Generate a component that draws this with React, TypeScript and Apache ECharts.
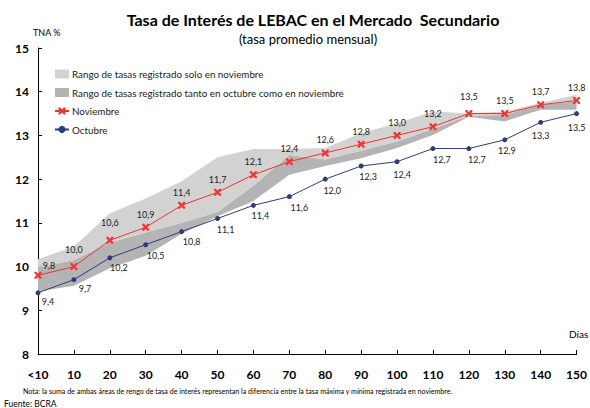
import React, { useEffect, useRef } from "react";
import * as echarts from "echarts";

const categories = ["<10", "10", "20", "30", "40", "50", "60", "70", "80", "90", "100", "110", "120", "130", "140", "150"];
const noviembre = [9.8, 10.0, 10.6, 10.9, 11.4, 11.7, 12.1, 12.4, 12.6, 12.8, 13.0, 13.2, 13.5, 13.5, 13.7, 13.8];
const octubre = [9.4, 9.7, 10.2, 10.5, 10.8, 11.1, 11.4, 11.6, 12.0, 12.3, 12.4, 12.7, 12.7, 12.9, 13.3, 13.5];
// lower edge of the shaded range (minimum registered)
const rangeMin = [9.43, 9.56, 9.96, 10.25, 10.75, 11.15, 11.5, 12.1, 12.3, 12.48, 12.71, 13.01, 13.43, 13.32, 13.59, 13.59];
// upper edge of the range common to both months
const overlapMax = [9.98, 10.15, 10.55, 10.78, 11.0, 11.25, 11.85, 12.55, 12.45, 12.65, 12.86, 13.15, 13.45, 13.47, 13.7, 13.78];
// upper edge of the November range (maximum registered)
const novMax = [10.17, 10.46, 11.22, 11.56, 11.95, 12.5, 12.69, 12.69, 12.71, 13.05, 13.28, 13.55, 13.5, 13.55, 13.74, 13.93];

const yTicks = { min: 8, max: 15, interval: 1 };

// label nudges (style only)
const novLabelOffset = [[11, 3], [0, -4], [0, -5], [0, 0], [0, 0], [0, 0], [0, 0], [0, 0], [0, 0], [0, 0], [0, 0], [0, 0], [0, -4], [0, 0], [0, 0], [0, 0]];
const octLabelOffset = [[10, -2], [11, -2], [9, -1], [10, 0], [10, -1], [8, 0], [7, -1], [10, 0], [7, 0], [7, -1], [5, 2], [9, 0], [8, 0], [2, 0], [0, 2], [0, 3]];

const FONT = "Lato, 'Open Sans', sans-serif";
const fmt = (v: number) => v.toFixed(1).replace(".", ",");
const LIGHT = "#d2d2d2";
const DARK = "#b4b4b4";
const RED = "#f03333";
const BLUE = "#2d3c7c";
const XPATH = "path://M0,0 L2.5,0 L5,3 L7.5,0 L10,0 L10,2.5 L7,5 L10,7.5 L10,10 L7.5,10 L5,7 L2.5,10 L0,10 L0,7.5 L3,5 L0,2.5 Z";

export default function App() {
  const ref = useRef<HTMLDivElement>(null);
  useEffect(() => {
    if (!ref.current) return;
    const chart = echarts.init(ref.current, null, { renderer: "svg" });
    const option: any = {
      animation: false,
      backgroundColor: "#ffffff",
      textStyle: { fontFamily: FONT },
      grid: { left: 38, right: 9, top: 48, bottom: 54 },
      legend: {
        orient: "vertical",
        left: 49,
        top: 64,
        itemWidth: 14,
        itemHeight: 9,
        itemGap: 8.5,
        textStyle: { fontFamily: FONT, fontSize: 9.8, color: "#222", padding: [0, 0, 0, -2] },
        data: [
          { name: "Rango de tasas registrado solo en noviembre", icon: "rect" },
          { name: "Rango de tasas registrado tanto en octubre como en noviembre", icon: "rect" },
          { name: "Noviembre" },
          { name: "Octubre" },
        ],
      },
      xAxis: {
        type: "category",
        data: categories,
        boundaryGap: false,
        axisLine: { lineStyle: { color: "#000", width: 1 } },
        axisTick: { inside: true, length: 4, lineStyle: { color: "#000" } },
        axisLabel: { fontFamily: FONT, fontWeight: "bold", fontSize: 12, color: "#000", margin: 14 },
        splitLine: { show: false },
      },
      yAxis: {
        type: "value",
        min: yTicks.min,
        max: yTicks.max,
        interval: yTicks.interval,
        axisLine: { show: true, lineStyle: { color: "#000", width: 1 } },
        axisTick: { show: true, inside: true, length: 4, lineStyle: { color: "#000" } },
        axisLabel: { fontFamily: FONT, fontWeight: "bold", fontSize: 12, color: "#000", margin: 9 },
        splitLine: { show: false },
      },
      series: [
        {
          name: "base",
          type: "line",
          stack: "band",
          data: rangeMin,
          symbol: "none",
          lineStyle: { opacity: 0 },
          silent: true,
        },
        {
          name: "Rango de tasas registrado tanto en octubre como en noviembre",
          type: "line",
          stack: "band",
          data: overlapMax.map((v, i) => +(v - rangeMin[i]).toFixed(3)),
          symbol: "none",
          lineStyle: { opacity: 0 },
          itemStyle: { color: DARK },
          areaStyle: { color: DARK, opacity: 1 },
        },
        {
          name: "Rango de tasas registrado solo en noviembre",
          type: "line",
          stack: "band",
          data: novMax.map((v, i) => +(v - overlapMax[i]).toFixed(3)),
          symbol: "none",
          lineStyle: { opacity: 0 },
          itemStyle: { color: LIGHT },
          areaStyle: { color: LIGHT, opacity: 1 },
        },
        {
          name: "Noviembre",
          type: "line",
          data: noviembre.map((v, i) => ({
            value: v,
            label: { offset: novLabelOffset[i] },
          })),
          symbol: XPATH,
          symbolSize: 7,
          lineStyle: { color: RED, width: 1 },
          itemStyle: { color: RED },
          z: 5,
          label: {
            show: true,
            position: "top",
            distance: 5,
            fontFamily: FONT,
            fontSize: 9,
            color: "#222",
            formatter: (p: any) => fmt(p.value),
          },
        },
        {
          name: "Octubre",
          type: "line",
          data: octubre.map((v, i) => ({
            value: v,
            label: { offset: octLabelOffset[i] },
          })),
          symbol: "circle",
          symbolSize: 5,
          lineStyle: { color: BLUE, width: 1 },
          itemStyle: { color: BLUE },
          z: 5,
          label: {
            show: true,
            position: "bottom",
            distance: 4,
            fontFamily: FONT,
            fontSize: 9,
            color: "#222",
            formatter: (p: any) => fmt(p.value),
          },
        },
      ],
      graphic: [
        {
          type: "text",
          x: 313,
          y: 19,
          style: {
            text: "Tasa de Interés de LEBAC en el Mercado  Secundario",
            font: `bold 16px ${FONT}`,
            fill: "#000",
            textAlign: "center",
            textVerticalAlign: "middle",
          },
        },
        {
          type: "text",
          x: 308,
          y: 39,
          style: {
            text: "(tasa promedio mensual)",
            font: `13px ${FONT}`,
            fill: "#000",
            textAlign: "center",
            textVerticalAlign: "middle",
          },
        },
        {
          type: "text",
          x: 33,
          y: 32,
          style: { text: "TNA %", font: `9px ${FONT}`, fill: "#000", textVerticalAlign: "middle" },
        },
        {
          type: "text",
          x: 569,
          y: 334,
          style: { text: "Días", font: `10px ${FONT}`, fill: "#000", textVerticalAlign: "middle" },
        },
        {
          type: "text",
          x: 23,
          y: 391,
          style: {
            text: "Nota: la suma de ambas áreas de rengo de tasa de interés representan la diferencia entre la tasa máxima y mínima registrada en noviembre.",
            font: `7.1px ${FONT}`,
            fill: "#000",
            textVerticalAlign: "middle",
          },
        },
        {
          type: "text",
          x: 4,
          y: 404,
          style: { text: "Fuente: BCRA", font: `8.5px ${FONT}`, fill: "#000", textVerticalAlign: "middle" },
        },
      ],
    };
    chart.setOption(option);
    return () => chart.dispose();
  }, []);
  return <div ref={ref} style={{ position: "fixed", left: 0, top: 0, width: 590, height: 408 }} />;
}
